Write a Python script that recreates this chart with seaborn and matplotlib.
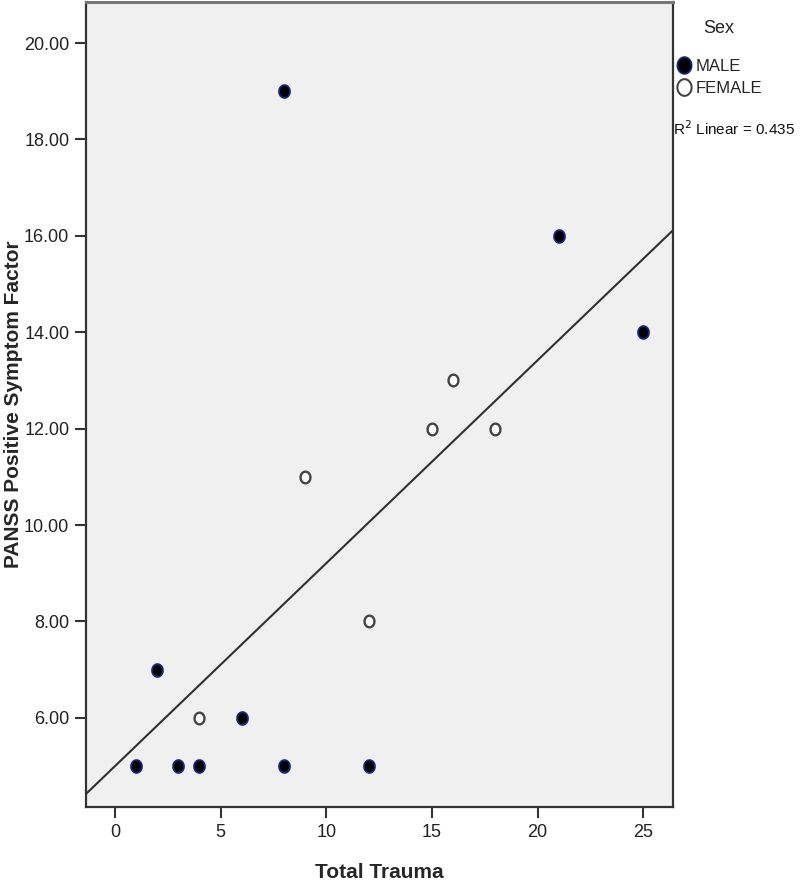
import numpy as np
import pandas as pd
import matplotlib
matplotlib.use("Agg")
import matplotlib.pyplot as plt
import seaborn as sns
from matplotlib.lines import Line2D
from matplotlib.path import Path

# data
male_trauma = [1, 3, 4, 8, 12, 2, 6, 8, 21, 25]
male_panss = [5, 5, 5, 5, 5, 7, 6, 19, 16, 14]
female_trauma = [4, 9, 12, 15, 16, 18]
female_panss = [6, 11, 8, 12, 13, 12]

df = pd.DataFrame({
    "trauma": male_trauma + female_trauma,
    "panss": male_panss + female_panss,
    "sex": ["MALE"] * len(male_trauma) + ["FEMALE"] * len(female_trauma),
})

# slightly tall ellipse, the source image is stretched vertically
t = np.linspace(0, 2 * np.pi, 60)
oval = Path(np.column_stack([0.85 * np.cos(t), np.sin(t)]), closed=True)

sns.set_theme(style="white")
plt.rcParams["font.family"] = ["Liberation Sans", "DejaVu Sans"]

fig = plt.figure(figsize=(8, 8.86), dpi=100)
ax = fig.add_axes([0.1075, 0.0892, 0.7335, 0.9085])
ax.set_facecolor("#f0f0f0")
ax.set_xlim(-1.37, 26.4)
ax.set_ylim(4.15, 20.85)

# fit line over the whole x range (SPSS style)
sns.regplot(data=df, x="trauma", y="panss", ax=ax, scatter=False, ci=None,
            truncate=False, line_kws=dict(color="#303030", lw=1.5))

m = df[df.sex == "MALE"]
f = df[df.sex == "FEMALE"]
sns.scatterplot(data=m, x="trauma", y="panss", ax=ax, color="black",
                edgecolor="#1a237e", linewidth=1.3, s=85, marker=oval, zorder=3)
sns.scatterplot(data=f, x="trauma", y="panss", ax=ax, color="white",
                edgecolor="#444444", linewidth=1.7, s=70, marker=oval, zorder=3)

ax.set_xticks([0, 5, 10, 15, 20, 25])
ax.set_yticks(np.arange(6, 21, 2))
ax.set_yticklabels([f"{v:.2f}" for v in np.arange(6, 21, 2)])
ax.tick_params(axis="both", direction="out", length=8, width=1.5,
               color="#333333", labelsize=13, labelcolor="#222222", pad=4,
               left=True, bottom=True)

for side in ["left", "bottom", "right"]:
    ax.spines[side].set_color("#333333")
    ax.spines[side].set_linewidth(1.6)
ax.spines["top"].set_color("#777777")
ax.spines["top"].set_linewidth(2.2)

ax.set_xlabel("Total Trauma", fontsize=15, fontweight="bold")
ax.xaxis.set_label_coords(0.5, -0.07)
ax.set_ylabel("PANSS Positive Symptom Factor", fontsize=15, fontweight="bold")
ax.yaxis.set_label_coords(-0.108, 0.5)

handles = [
    Line2D([], [], marker=oval, ls="", markerfacecolor="black",
           markeredgecolor="#1a237e", markersize=12, markeredgewidth=1.3),
    Line2D([], [], marker=oval, ls="", markerfacecolor="white",
           markeredgecolor="#444444", markersize=12, markeredgewidth=1.5),
]
leg = fig.legend(handles, ["MALE", "FEMALE"], title="Sex", frameon=False,
                 loc="upper left", bbox_to_anchor=(0.836, 0.985),
                 fontsize=12, title_fontsize=13, handletextpad=0.2,
                 handlelength=1.0, labelspacing=0.4, borderaxespad=0)
leg.get_title().set_color("#222222")
leg._legend_box.sep = 16
fig.text(0.841, 0.855, "R$^2$ Linear = 0.435", fontsize=11, color="#111111",
         ha="left", va="center")

fig.savefig("out.png", dpi=100)
